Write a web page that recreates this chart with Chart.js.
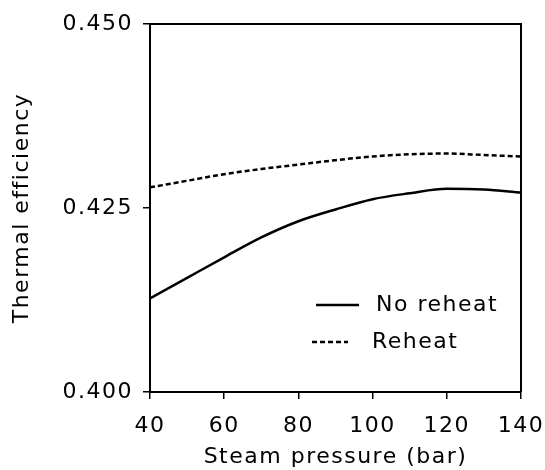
<!DOCTYPE html>
<html>
<head>
<meta charset="utf-8">
<script src="https://cdn.jsdelivr.net/npm/chart.js@4/dist/chart.umd.min.js"></script>
<style>
  html, body { margin: 0; padding: 0; background: #fff; }
  canvas { display: block; }
</style>
</head>
<body>
<canvas id="c" width="545" height="470"></canvas>
<script>
// ---- data ----
const pressures = [40, 50, 60, 70, 80, 90, 100, 110, 120, 130, 140];
const noReheat  = [0.4127, 0.4155, 0.4183, 0.4210, 0.4232, 0.4248, 0.4262, 0.4270, 0.4276, 0.4275, 0.4271];
const reheat    = [0.4278, 0.4287, 0.4296, 0.4303, 0.4309, 0.4315, 0.4320, 0.4323, 0.4324, 0.4322, 0.4320];
const seriesLabels = ['No reheat', 'Reheat'];
const xTicks = [40, 60, 80, 100, 120, 140];
const yTicks = [0.400, 0.425, 0.450];
const xTitle = 'Steam pressure (bar)';
const yTitle = 'Thermal efficiency';

const FONT = { family: 'DejaVu Sans', size: 22 };
const SPACING = '1.5px';

const spacingPlugin = {
  id: 'spacing',
  afterInit(c) { c.ctx.letterSpacing = SPACING; },
  beforeUpdate(c) { c.ctx.letterSpacing = SPACING; },
  beforeLayout(c) { c.ctx.letterSpacing = SPACING; },
  beforeDraw(c) { c.ctx.letterSpacing = SPACING; }
};

const framePlugin = {
  id: 'frame',
  afterDatasetsDraw(c) {
    const a = c.chartArea, ctx = c.ctx;
    ctx.save();
    ctx.strokeStyle = '#000';
    ctx.lineWidth = 2;
    ctx.beginPath();
    ctx.moveTo(a.left, a.top);
    ctx.lineTo(a.right, a.top);
    ctx.lineTo(a.right, a.bottom);
    ctx.stroke();
    ctx.restore();
  }
};

const legendPlugin = {
  id: 'insideLegend',
  afterDraw(c) {
    const a = c.chartArea, ctx = c.ctx;
    ctx.save();
    ctx.letterSpacing = SPACING;
    ctx.font = FONT.size + 'px "' + FONT.family + '"';
    ctx.textBaseline = 'middle';
    ctx.fillStyle = '#000';
    c.data.datasets.forEach((ds, i) => {
      const y = a.top + 281 + i * 37;
      const x0 = a.left + 166 - i * 4;
      const len = i === 0 ? 43 : 36;
      ctx.beginPath();
      ctx.strokeStyle = ds.borderColor;
      ctx.lineWidth = ds.borderWidth;
      ctx.setLineDash(ds.borderDash || []);
      ctx.moveTo(x0, y);
      ctx.lineTo(x0 + len, y);
      ctx.stroke();
      ctx.setLineDash([]);
      ctx.fillText(ds.label, a.left + 226 - i * 4, y);
    });
    ctx.restore();
  }
};

new Chart(document.getElementById('c'), {
  type: 'line',
  data: {
    datasets: [
      {
        label: seriesLabels[0],
        data: pressures.map((p, i) => ({ x: p, y: noReheat[i] })),
        borderColor: '#000',
        borderWidth: 2.5,
        pointRadius: 0,
        cubicInterpolationMode: 'monotone',
        fill: false
      },
      {
        label: seriesLabels[1],
        data: pressures.map((p, i) => ({ x: p, y: reheat[i] })),
        borderColor: '#000',
        borderWidth: 2.5,
        borderDash: [5, 3],
        pointRadius: 0,
        cubicInterpolationMode: 'monotone',
        fill: false
      }
    ]
  },
  options: {
    responsive: false,
    animation: false,
    devicePixelRatio: 1,
    layout: { padding: { top: 24, right: 24, left: 0, bottom: 0 } },
    plugins: {
      legend: { display: false },
      tooltip: { enabled: false }
    },
    scales: {
      x: {
        type: 'linear',
        min: 40,
        max: 140,
        afterBuildTicks: s => { s.ticks = xTicks.map(v => ({ value: v })); },
        afterFit: s => { s.height = 78; s.paddingLeft = 0; s.paddingRight = 0; },
        ticks: { color: '#000', font: FONT, padding: 14, maxRotation: 0, callback: v => String(v) },
        grid: { display: true, drawOnChartArea: false, drawTicks: true, tickLength: 7, color: '#000', lineWidth: 1.5 },
        border: { display: true, color: '#000', width: 2 },
        title: { display: true, text: xTitle, color: '#000', font: FONT, padding: { top: 12, bottom: 0 } }
      },
      y: {
        type: 'linear',
        min: 0.4,
        max: 0.45,
        afterBuildTicks: s => { s.ticks = yTicks.map(v => ({ value: v })); },
        afterFit: s => { s.width = 150; s.paddingTop = 0; s.paddingBottom = 0; },
        ticks: { color: '#000', font: FONT, padding: 10, callback: v => Number(v).toFixed(3) },
        grid: { display: true, drawOnChartArea: false, drawTicks: true, tickLength: 7, color: '#000', lineWidth: 1.5 },
        border: { display: true, color: '#000', width: 2 },
        title: { display: true, text: yTitle, color: '#000', font: FONT, padding: { top: 9, bottom: 0 } }
      }
    }
  },
  plugins: [spacingPlugin, framePlugin, legendPlugin]
});
</script>
</body>
</html>
